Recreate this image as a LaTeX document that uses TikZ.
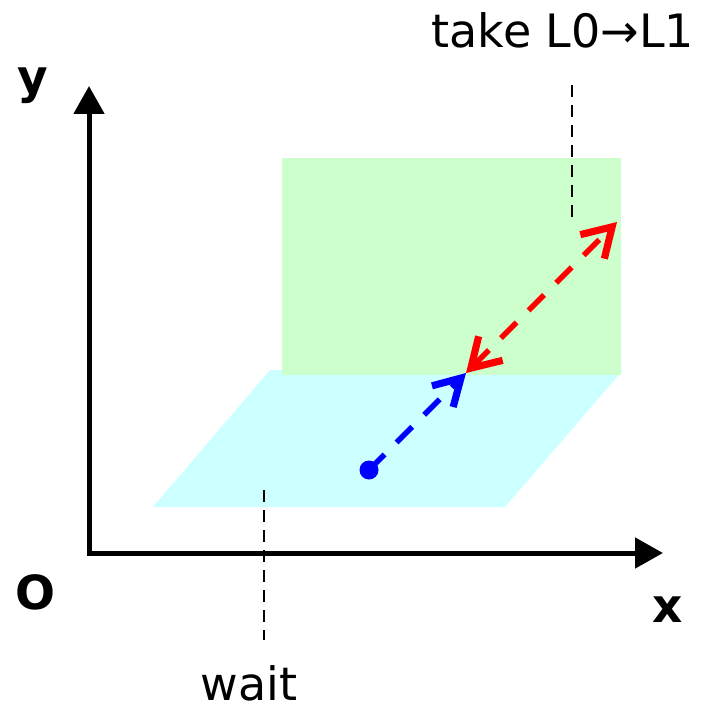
\documentclass[tikz,border=0pt]{standalone}
\usepackage{fontspec}
\setmainfont{DejaVu Sans}
\usetikzlibrary{arrows.meta}
\definecolor{lgreen}{RGB}{204,255,204}
\definecolor{lcyan}{RGB}{204,255,255}
\definecolor{myblue}{RGB}{0,0,255}
\definecolor{myred}{RGB}{255,0,0}
\begin{document}
\begin{tikzpicture}[x=1pt,y=-1pt,
  axis/.style={line width=5pt,-{Triangle[length=28pt,width=30pt]}},
  guide/.style={line width=1.8pt,dash pattern=on 12pt off 8pt},
  moveline/.style={line width=5.5pt,dash pattern=on 22pt off 17pt},
  lbl/.style={inner sep=0pt,font=\fontsize{46}{50}\selectfont},
  blbl/.style={inner sep=0pt,font=\fontsize{47}{50}\selectfont\bfseries}]
\useasboundingbox (0,0) rectangle (707,706);
% planes
\fill[lcyan] (270,370) -- (623,370) -- (505,507) -- (153,507) -- cycle;
\fill[lgreen] (282,158) rectangle (621,375);
% axes
\coordinate (o) at (89,553);
\coordinate (ytip) at (89,86);
\coordinate (xtip) at (663,553);
\draw[axis,line cap=butt] (89,555.5) -- (ytip);
\draw[axis] (86.5,553) -- (xtip);
\node[blbl] (ylab) at (33,86) {y};
\node[blbl] (olab) at (35,592) {O};
\node[blbl] (xlab) at (668,610) {x};
% guides
\node[lbl,anchor=base] (take) at (563,48) {take L0→L1};
\node[lbl,anchor=base] (wait) at (249,700) {wait};
\coordinate (tg1) at (572,85);
\coordinate (tg2) at (572,222);
\coordinate (wg1) at (264,490);
\coordinate (wg2) at (264,640);
\draw[guide] (tg1) -- (tg2);
\draw[guide] (wg1) -- (wg2);
% motion
\node[circle,fill=myblue,minimum size=19pt,inner sep=0pt] (dot) at (369,470) {};
\coordinate (mid) at (466,373);
\coordinate (top) at (617,222);
\draw[moveline,myblue,-{Straight Barb[length=26pt,width=30pt,line width=0pt 1.3]}] (dot.center) -- (mid);
\draw[moveline,myred,{Straight Barb[length=28pt,width=34pt,line width=0pt 1.3]}-{Straight Barb[length=28pt,width=34pt,line width=0pt 1.3]}] (mid) -- (top);
\end{tikzpicture}
\end{document}
